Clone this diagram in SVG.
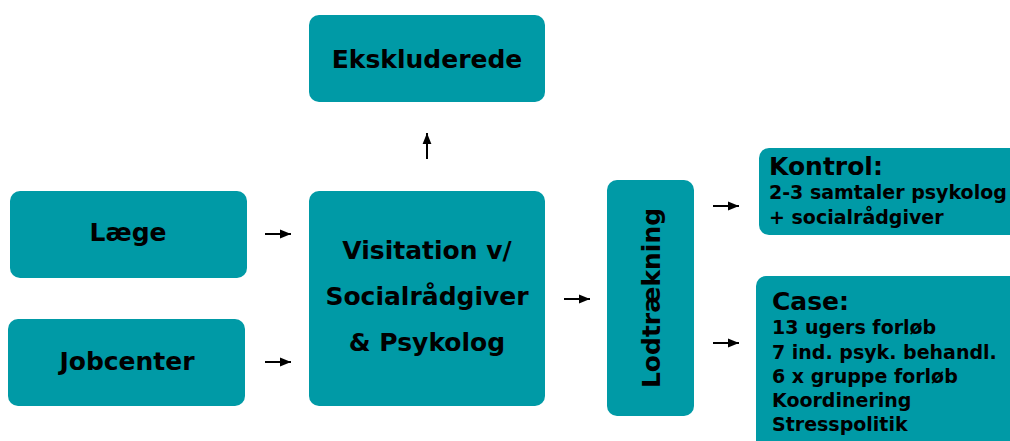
<svg xmlns="http://www.w3.org/2000/svg" width="1010" height="441" viewBox="0 0 1010 441">
<style>
.box{fill:#009aa6}
.t{font-family:"DejaVu Sans",sans-serif;font-weight:bold;fill:#000}
.c{text-anchor:middle}
.l{stroke:#000;stroke-width:2;fill:none;marker-end:url(#ah)}
</style>
<defs>
<marker id="ah" viewBox="0 0 10 10" refX="10" refY="5" markerWidth="5.5" markerHeight="5.5" orient="auto" markerUnits="strokeWidth">
<path d="M0,1 L10,5 L0,9 Z" fill="#000"/>
</marker>
</defs>
<rect width="1010" height="441" fill="#fff"/>
<g id="ekskluderede"><rect class="box" x="309" y="15" width="236" height="87" rx="10"/><text class="t c" x="427" y="68" font-size="25">Ekskluderede</text></g>
<g id="laege"><rect class="box" x="10" y="191" width="237" height="87" rx="10"/><text class="t c" x="128" y="241" font-size="25">Læge</text></g>
<g id="jobcenter"><rect class="box" x="8" y="319" width="237" height="87" rx="10"/><text class="t c" x="127" y="370" font-size="25">Jobcenter</text></g>
<g id="visitation"><rect class="box" x="309" y="191" width="236" height="215" rx="10"/>
<text class="t c" font-size="25"><tspan x="427" y="259">Visitation v/</tspan><tspan x="427" y="305">Socialrådgiver</tspan><tspan x="427" y="351">&amp; Psykolog</tspan></text></g>
<g id="lodtraekning"><rect class="box" x="607" y="180" width="87" height="236" rx="10"/><text class="t c" font-size="25" transform="translate(660,298) rotate(-90)">Lodtrækning</text></g>
<g id="kontrol"><rect class="box" x="759" y="148" width="260" height="87" rx="10"/>
<text class="t" x="769" y="175" font-size="25">Kontrol:</text>
<text class="t" font-size="19"><tspan x="769" y="199">2-3 samtaler psykolog</tspan><tspan x="769" y="224">+ socialrådgiver</tspan></text></g>
<g id="case"><rect class="box" x="756" y="276" width="264" height="180" rx="10"/>
<text class="t" x="772" y="310" font-size="25">Case:</text>
<text class="t" font-size="19"><tspan x="772" y="334">13 ugers forløb</tspan><tspan x="772" y="359">7 ind. psyk. behandl.</tspan><tspan x="772" y="383">6 x gruppe forløb</tspan><tspan x="772" y="407">Koordinering</tspan><tspan x="772" y="431">Stresspolitik</tspan></text></g>
<g id="connectors">
<line class="l" x1="265" y1="234" x2="291" y2="234"/>
<line class="l" x1="265" y1="362" x2="291" y2="362"/>
<line class="l" x1="427" y1="159" x2="427" y2="133"/>
<line class="l" x1="564" y1="299" x2="590" y2="299"/>
<line class="l" x1="713" y1="206" x2="739" y2="206"/>
<line class="l" x1="713" y1="343" x2="739" y2="343"/>
</g>
</svg>
